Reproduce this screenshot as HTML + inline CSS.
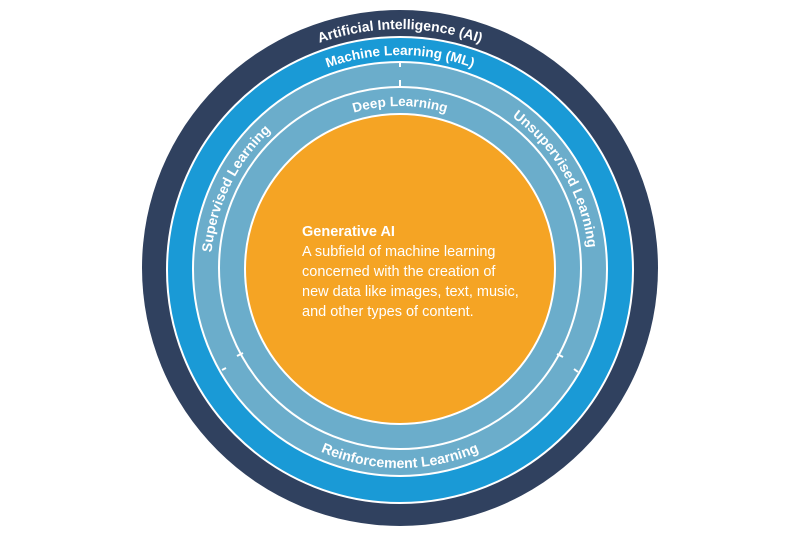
<!DOCTYPE html>
<html><head><meta charset="utf-8"><style>
html,body{margin:0;padding:0;background:#fff;}
svg{display:block;}
text{font-family:"Liberation Sans",sans-serif;font-weight:bold;fill:#fff;}
</style></head><body>
<svg width="800" height="537" viewBox="0 0 800 537" xmlns="http://www.w3.org/2000/svg">
<defs>
<path id="pAI" d="M174.5,186.9 A240,240 0 0 1 625.5,186.9"/>
<path id="pML" d="M198.9,195.8 A214,214 0 0 1 601.1,195.8"/>
<path id="pDL" d="M246.8,213.3 A163,163 0 0 1 553.2,213.3"/>
<path id="pSL" d="M264,400.3 A189,189 0 0 1 419.8,81"/>
<path id="pUL" d="M367.2,82.9 A189,189 0 0 1 544.8,390.5"/>
<path id="pRL" d="M213,337.1 A199,199 0 0 0 587,337.1"/>
</defs>
<circle cx="400" cy="268" r="258" fill="#30415f"/>
<circle cx="400" cy="270" r="233" fill="#1a9ad6" stroke="#fff" stroke-width="2"/>
<circle cx="400" cy="269" r="207" fill="#6badcb" stroke="#fff" stroke-width="2"/>
<circle cx="400" cy="268" r="181" fill="#6badcb" stroke="#fff" stroke-width="2"/>
<circle cx="400" cy="269" r="155" fill="#f5a424" stroke="#fff" stroke-width="2"/>
<g stroke="#fff" stroke-width="2">
<line x1="400" y1="62" x2="400" y2="67"/>
<line x1="400" y1="80" x2="400" y2="87"/>
<line x1="222" y1="370" x2="226" y2="368"/>
<line x1="237" y1="356" x2="243" y2="353"/>
<line x1="578" y1="372" x2="574" y2="369"/>
<line x1="563" y1="357" x2="557" y2="354"/>
</g>
<text font-size="14"><textPath href="#pAI" startOffset="50%" text-anchor="middle">Artificial Intelligence (AI)</textPath></text>
<text font-size="13.6"><textPath href="#pML" startOffset="50%" text-anchor="middle">Machine Learning (ML)</textPath></text>
<text font-size="13.5"><textPath href="#pDL" startOffset="50%" text-anchor="middle">Deep Learning</textPath></text>
<text font-size="14"><textPath href="#pSL" startOffset="50%" text-anchor="middle">Supervised Learning</textPath></text>
<text font-size="14"><textPath href="#pUL" startOffset="50%" text-anchor="middle">Unsupervised Learning</textPath></text>
<text font-size="14.2"><textPath href="#pRL" startOffset="50%" text-anchor="middle">Reinforcement Learning</textPath></text>
<text x="302" y="236" font-size="14.5">Generative AI</text>
<g font-size="14.5">
<text x="302" y="256" style="font-weight:normal">A subfield of machine learning</text>
<text x="302" y="276" style="font-weight:normal">concerned with the creation of</text>
<text x="302" y="296" style="font-weight:normal">new data like images, text, music,</text>
<text x="302" y="316" style="font-weight:normal">and other types of content.</text>
</g>
</svg>
</body></html>
